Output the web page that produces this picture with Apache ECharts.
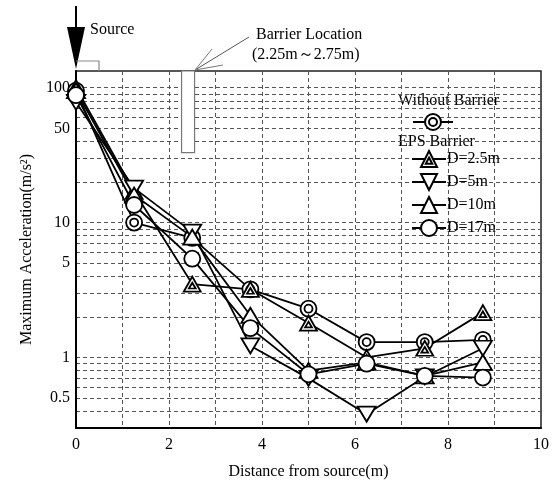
<!DOCTYPE html>
<html><head><meta charset="utf-8">
<script src="https://cdn.jsdelivr.net/npm/echarts@6/dist/echarts.min.js"></script>
<style>html,body{margin:0;padding:0;background:#fff}#c{width:560px;height:489px}</style>
</head><body><div id="c"></div>
<script>
const distances = [0, 1.25, 2.5, 3.75, 5, 6.25, 7.5, 8.75];
const withoutBarrier = [95, 10, 7.7, 3.2, 2.3, 1.3, 1.3, 1.35];
const d25 = [100, 17, 3.5, 3.2, 1.8, 1.0, 1.17, 2.15];
const d5 = [78, 18, 8.5, 1.22, 0.7, 0.38, 0.72, 1.17];
const d10 = [95, 16, 7.8, 2.05, 0.8, 0.92, 0.73, 0.92];
const d17 = [88, 13.5, 5.4, 1.65, 0.75, 0.9, 0.73, 0.71];
const yLabelValues = [0.5, 1, 5, 10, 50, 100];
const yGridValues = [0.4,0.5,0.6,0.7,0.8,0.9,1,2,3,4,5,6,7,8,9,10,20,30,40,50,60,70,80,90,100];
const xLabelValues = [0, 2, 4, 6, 8, 10];
const barrierRange = [2.27, 2.55];
const barrierDepth = 33;

const FONT = '"Liberation Serif","Times New Roman",serif';
const pairs = arr => distances.map((x, i) => [x, arr[i]]);

const SYM_DOUBLE_CIRCLE = 'path://M10,0 A10,10 0 1,1 10,20 A10,10 0 1,1 10,0 Z M10,5 A5,5 0 1,1 10,15 A5,5 0 1,1 10,5 Z';
const SYM_DOUBLE_TRI = 'path://M10,0 L20,17 L0,17 Z M10,7 L14,13.5 L6,13.5 Z';
const SYM_DOWN_TRI = 'path://M0,0 L20,0 L10,17 Z';
const SYM_UP_TRI = 'path://M10,0 L20,17 L0,17 Z';

function mk(name, arr, symbol, size) {
  return {
    name, type: 'line', data: pairs(arr), symbol, symbolSize: size,
    clip: false,
    lineStyle: { color: '#000', width: 1.8 },
    itemStyle: { color: '#fff', borderColor: '#000', borderWidth: 1.8 },
    emphasis: { disabled: true }
  };
}

const chart = echarts.init(document.getElementById('c'), null, { renderer: 'canvas' });
const series = [
  mk('Without Barrier', withoutBarrier, SYM_DOUBLE_CIRCLE, 16),
  mk('D=2.5m', d25, SYM_DOUBLE_TRI, [17, 15]),
  mk('D=5m', d5, SYM_DOWN_TRI, [18, 15]),
  mk('D=10m', d10, SYM_UP_TRI, [18, 15]),
  mk('D=17m', d17, 'circle', 16)
];
series[0].markArea = {
  silent: true,
  itemStyle: { color: '#fff', borderColor: '#777', borderWidth: 1.2 },
  data: [[{ xAxis: barrierRange[0], yAxis: barrierDepth }, { xAxis: barrierRange[1], yAxis: 133 }]]
};

chart.setOption({
  animation: false,
  textStyle: { fontFamily: FONT },
  grid: { left: 76, right: 19, top: 71, bottom: 61, show: true, borderColor: '#222', borderWidth: 1.5 },
  xAxis: {
    type: 'value', min: 0, max: 10, interval: 1,
    axisLine: { lineStyle: { color: '#000', width: 2 } },
    axisTick: { show: false },
    axisLabel: { customValues: xLabelValues, color: '#000', fontSize: 16, fontFamily: FONT, margin: 9 },
    splitLine: { show: true, lineStyle: { color: '#555', type: [4, 3], width: 1 } },
    name: 'Distance from source(m)', nameLocation: 'middle', nameGap: 36,
    nameTextStyle: { color: '#000', fontSize: 16, fontFamily: FONT }
  },
  yAxis: {
    type: 'log', logBase: 10, min: 0.3, max: 133,
    axisLine: { lineStyle: { color: '#000', width: 2 } },
    axisTick: { show: false, customValues: yGridValues },
    axisLabel: { customValues: yLabelValues, color: '#000', fontSize: 16, fontFamily: FONT, margin: 6,
      formatter: v => String(v) },
    splitLine: { show: true, lineStyle: { color: '#555', type: [4, 3], width: 1 } },
    name: 'Maximum Acceleration(m/s²)', nameLocation: 'middle', nameGap: 41,
    nameTextStyle: { color: '#000', fontSize: 16, fontFamily: FONT }
  },
  legend: [
    { data: ['Without Barrier'], left: 412, top: 112, itemWidth: 40, itemHeight: 20,
      formatter: () => '', padding: 0, selectedMode: false },
    { data: ['D=2.5m', 'D=5m', 'D=10m', 'D=17m'], orient: 'vertical', left: 411, top: 150,
      itemWidth: 34, itemHeight: 20, itemGap: 5, padding: 0, selectedMode: false,
      textStyle: { color: '#000', fontSize: 16, fontFamily: FONT, padding: [0, 0, 0, -4] } }
  ],
  graphic: [
    { type: 'text', left: 398, top: 93, style: { text: 'Without Barrier', fill: '#000', font: '16px ' + FONT } },
    { type: 'text', left: 398, top: 134, style: { text: 'EPS Barrier', fill: '#000', font: '16px ' + FONT } },
    { type: 'text', left: 90, top: 22, style: { text: 'Source', fill: '#000', font: '16px ' + FONT } },
    { type: 'text', left: 256, top: 27, style: { text: 'Barrier Location', fill: '#000', font: '16px ' + FONT } },
    { type: 'text', left: 252, top: 47, style: { text: '(2.25m～2.75m)', fill: '#000', font: '16px ' + FONT } },
    { type: 'line', shape: { x1: 76, y1: 6, x2: 76, y2: 30 }, style: { stroke: '#000', lineWidth: 2 } },
    { type: 'polygon', shape: { points: [[67, 27], [85, 27], [76, 69]] }, style: { fill: '#000' } },
    { type: 'polyline', shape: { points: [[76, 61], [99, 61], [99, 71]] }, style: { stroke: '#888', lineWidth: 1.2, fill: null } },
    { type: 'line', shape: { x1: 195, y1: 70, x2: 249, y2: 37 }, style: { stroke: '#555', lineWidth: 1 } },
    { type: 'line', shape: { x1: 195, y1: 70, x2: 212, y2: 49 }, style: { stroke: '#777', lineWidth: 1 } },
    { type: 'line', shape: { x1: 195, y1: 70, x2: 223, y2: 65 }, style: { stroke: '#777', lineWidth: 1 } }
  ],
  series
});
</script></body></html>
